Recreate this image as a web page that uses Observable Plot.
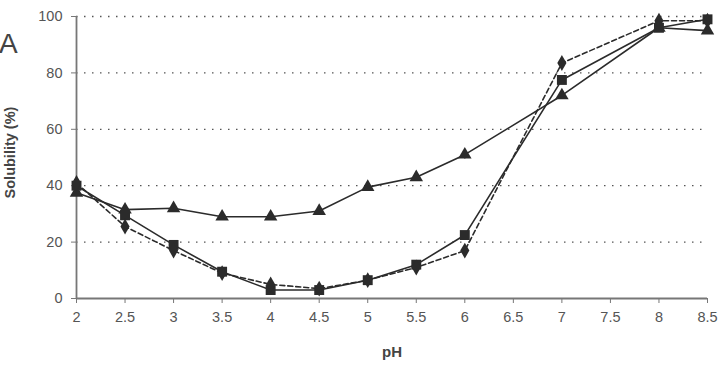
<!DOCTYPE html>
<html>
<head>
<meta charset="utf-8">
<script src="https://cdn.jsdelivr.net/npm/d3@7"></script>
<script src="https://cdn.jsdelivr.net/npm/@observablehq/plot@0.6"></script>
<style>
  body { margin: 0; background: #fff; }
  #wrap { position: relative; width: 719px; height: 369px; }
  #panel { position: absolute; left: 0; top: 0; }
</style>
</head>
<body>
<div id="wrap">
  <svg id="panel" width="40" height="70"><text x="-1" y="53" font-family="'Liberation Sans', Arial, sans-serif" font-size="28" fill="#444">A</text></svg>
</div>
<script>
const pH = [2, 2.5, 3, 3.5, 4, 4.5, 5, 5.5, 6, 7, 8, 8.5];
const triangleVals = [37.5, 31.5, 32, 29, 29, 31, 39.5, 43, 51, 72, 96, 95];
const triangleErr  = [1, 1.5, 1, 0.5, 0.5, 0.5, 1, 0.5, 1.5, 0.5, 0.5, 0.5];
const squareVals   = [40, 29.5, 19, 9.5, 3, 3, 6.5, 12, 22.5, 77.5, 96, 99];
const squareErr    = [1.5, 1, 1, 0.5, 0.5, 0.5, 0.5, 0.5, 0.5, 0.5, 0.5, 0.5];
const dashedVals   = [41, 25.5, 17, 9, 5, 3.5, 6.5, 11, 17, 83.5, 98.5, 98.5];
const dashedErr    = [0.5, 0.5, 0.5, 0.5, 0.5, 0.5, 0.5, 0.5, 1.5, 0.5, 0.5, 0.5];
const xTicks = [2, 2.5, 3, 3.5, 4, 4.5, 5, 5.5, 6, 6.5, 7, 7.5, 8, 8.5];
const yTicks = [0, 20, 40, 60, 80, 100];
const gridVals = [20, 40, 60, 80, 100];
const xLabel = "pH";
const yLabel = "Solubility (%)";

const mk = (vals, errs) => pH.map((x, i) => ({x, y: vals[i], e: errs[i]}));
const tri = mk(triangleVals, triangleErr);
const sq = mk(squareVals, squareErr);
const dsh = mk(dashedVals, dashedErr);

const ink = "#2b2b2b";
const font = "'Liberation Sans', Arial, sans-serif";

const chart = Plot.plot({
  width: 719,
  height: 369,
  marginLeft: 76,
  marginRight: 12,
  marginTop: 16,
  marginBottom: 71,
  style: {fontFamily: font, fontSize: "14.5px", color: "#555", background: "transparent"},
  x: {domain: [2, 8.5]},
  y: {domain: [0, 100]},
  marks: [
    Plot.ruleY(gridVals, {stroke: "#555", strokeDasharray: "1.5,6.5", strokeWidth: 1.3}),
    Plot.axisX({ticks: xTicks, tickSize: 5, tickPadding: 8, stroke: "#777", label: null, fontSize: 14.5, tickFormat: d => String(d)}),
    Plot.axisY({ticks: yTicks, tickSize: 5, tickPadding: 9, stroke: "#777", label: null, fontSize: 14.5}),
    Plot.ruleY([0], {stroke: "#777", strokeWidth: 1.8}),
    Plot.ruleX([2], {stroke: "#777", strokeWidth: 1.8}),
    Plot.text([xLabel], {frameAnchor: "bottom", textAnchor: "middle", dy: 58, fontWeight: "bold", fontSize: 15, fill: "#444"}),
    Plot.text([yLabel], {frameAnchor: "left", textAnchor: "middle", dx: -66, dy: -5, rotate: -90, fontWeight: "bold", fontSize: 14.5, fill: "#444"}),
    Plot.ruleX(tri, {x: "x", y1: d => d.y - d.e, y2: d => d.y + d.e, stroke: ink, strokeWidth: 1.3}),
    Plot.ruleX(sq, {x: "x", y1: d => d.y - d.e, y2: d => d.y + d.e, stroke: ink, strokeWidth: 1.3}),
    Plot.ruleX(dsh, {x: "x", y1: d => d.y - d.e, y2: d => d.y + d.e, stroke: ink, strokeWidth: 1.3}),
    Plot.line(tri, {x: "x", y: "y", stroke: ink, strokeWidth: 1.6}),
    Plot.line(sq, {x: "x", y: "y", stroke: ink, strokeWidth: 1.6}),
    Plot.line(dsh, {x: "x", y: "y", stroke: ink, strokeWidth: 1.6, strokeDasharray: "5,3"}),
    Plot.dot(tri, {x: "x", y: "y", symbol: "triangle", r: 5, fill: ink, stroke: "none"}),
    Plot.dot(sq, {x: "x", y: "y", symbol: "square", r: 5.6, fill: ink, stroke: "none"}),
    Plot.dot(dsh, {x: "x", y: "y", symbol: "diamond", r: 4.8, fill: ink, stroke: "none"})
  ]
});
document.getElementById("wrap").prepend(chart);
</script>
</body>
</html>
